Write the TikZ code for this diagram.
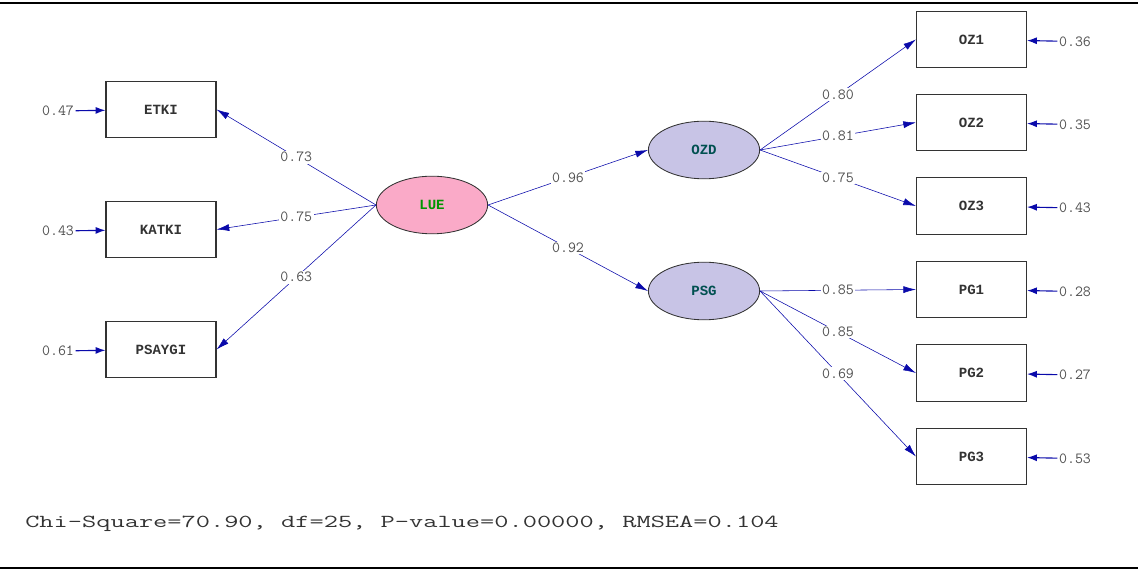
\documentclass[tikz,border=0pt]{standalone}
\usepackage{fontspec}
\newfontfamily\lisrelfont{Liberation Mono}
\usetikzlibrary{arrows.meta,shapes.geometric}

\definecolor{pathblue}{RGB}{10,10,170}
\definecolor{luepink}{RGB}{250,170,200}
\definecolor{latlav}{RGB}{200,196,230}
\definecolor{luegreen}{RGB}{0,150,0}
\definecolor{latteal}{RGB}{0,80,80}
\definecolor{numgray}{RGB}{80,80,80}

\begin{document}
\begin{tikzpicture}[x=0.025cm, y=-0.025cm, thin]

    \tikzset{obsbox/.style={%
      draw=black!80,%
      rectangle,%
      line width=0.8pt,%
      minimum width=2.75cm,%
      minimum height=1.42cm,%
      font=\lisrelfont\bfseries\fontsize{10}{12}\selectfont,%
      text=black!80}%
    };

    \tikzset{latent/.style={draw=black!80, ellipse, line width=0.6pt,
      minimum width=2.78cm, minimum height=1.44cm,
      font=\lisrelfont\bfseries\fontsize{10}{12}\selectfont}};

    \tikzset{errlabel/.style={font=\ttfamily\fontsize{11}{13}\selectfont, text=numgray, inner sep=1pt}};
    \tikzset{load/.style={draw=pathblue, -{Latex[length=9pt,width=5pt]}}};
    \tikzset{coef/.style={midway, fill=white, inner sep=1pt, font=\ttfamily\fontsize{11}{13}\selectfont, text=numgray}};
    \tikzset{errarrow/.style={draw=pathblue, line width=0.8pt, -{Latex[length=7pt,width=5pt]}}};

    \useasboundingbox (0,0) rectangle (1141,569);
    \coordinate (topl) at (0,3);
    \coordinate (topr) at (1138,3);
    \coordinate (botl) at (0,568);
    \coordinate (botr) at (1138,568);
    \draw [line width=1pt] (topl) -- (topr);
    \draw [line width=1pt] (botl) -- (botr);

    %%%%%%%%%%%%%%%
    %  latents    %
    %%%%%%%%%%%%%%%
    \node [latent, fill=luepink, text=luegreen] (lue) at (432,205) {LUE};
    \node [latent, fill=latlav, text=latteal] (ozd) at (704,150) {OZD};
    \node [latent, fill=latlav, text=latteal] (psg) at (704,291) {PSG};

    %%%%%%%%%%%%%%%
    %  indicators %
    %%%%%%%%%%%%%%%
    \node [obsbox] (etki) at (161,109.5) {ETKI};
    \node [obsbox] (katki) at (161,229.5) {KATKI};
    \node [obsbox] (psaygi) at (161,349.5) {PSAYGI};
    \node [obsbox] (oz1) at (971.5,39.5) {OZ1};
    \node [obsbox] (oz2) at (971.5,122.5) {OZ2};
    \node [obsbox] (oz3) at (971.5,206) {OZ3};
    \node [obsbox] (pg1) at (971.5,289.5) {PG1};
    \node [obsbox] (pg2) at (971.5,373) {PG2};
    \node [obsbox] (pg3) at (971.5,456.5) {PG3};

    %%%%%%%%%%%%%%%
    %  errors     %
    %%%%%%%%%%%%%%%
    \node [errlabel] (eetki) at (58,111) {0.47};
    \node [errlabel] (ekatki) at (58,231) {0.43};
    \node [errlabel] (epsaygi) at (58,351) {0.61};
    \node [errlabel] (eoz1) at (1075,41.5) {0.36};
    \node [errlabel] (eoz2) at (1075,124.5) {0.35};
    \node [errlabel] (eoz3) at (1075,208) {0.43};
    \node [errlabel] (epg1) at (1075,291.5) {0.28};
    \node [errlabel] (epg2) at (1075,375) {0.27};
    \node [errlabel] (epg3) at (1075,458.5) {0.53};

    \draw [errarrow] (eetki) -- (etki);
    \draw [errarrow] (ekatki) -- (katki);
    \draw [errarrow] (epsaygi) -- (psaygi);
    \draw [errarrow] (eoz1) -- (oz1);
    \draw [errarrow] (eoz2) -- (oz2);
    \draw [errarrow] (eoz3) -- (oz3);
    \draw [errarrow] (epg1) -- (pg1);
    \draw [errarrow] (epg2) -- (pg2);
    \draw [errarrow] (epg3) -- (pg3);

    %%%%%%%%%%%%%%%
    %  loadings   %
    %%%%%%%%%%%%%%%
    \draw [load] (lue.west) -- (etki.east) node [coef] {0.73};
    \draw [load] (lue.west) -- (katki.east) node [coef] {0.75};
    \draw [load] (lue.west) -- (psaygi.east) node [coef] {0.63};
    \draw [load] (lue.east) -- (ozd.west) node [coef] {0.96};
    \draw [load] (lue.east) -- (psg.west) node [coef] {0.92};
    \draw [load] (ozd.east) -- (oz1.west) node [coef] {0.80};
    \draw [load] (ozd.east) -- (oz2.west) node [coef] {0.81};
    \draw [load] (ozd.east) -- (oz3.west) node [coef] {0.75};
    \draw [load] (psg.east) -- (pg1.west) node [coef] {0.85};
    \draw [load] (psg.east) -- (pg2.west) node [coef] {0.85};
    \draw [load] (psg.east) -- (pg3.west) node [coef] {0.69};

    \node [anchor=west, inner sep=0pt, text=black!80] (fit) at (25,524)
      {\scalebox{1.51}[1]{\ttfamily\fontsize{13}{15}\selectfont Chi-Square=70.90, df=25, P-value=0.00000, RMSEA=0.104}};

  \end{tikzpicture}
\end{document}
